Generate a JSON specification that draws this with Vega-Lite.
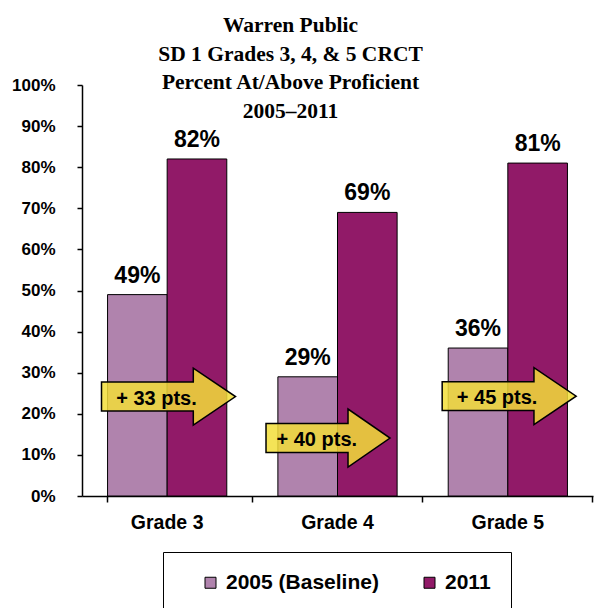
{
  "$schema": "https://vega.github.io/schema/vega-lite/v6.json",
  "autosize": {"type": "none"},
  "width": 511,
  "height": 411,
  "padding": {"left": 82, "top": 85, "right": 7, "bottom": 112},
  "background": "white",
  "title": {
    "text": ["Warren Public", "SD 1 Grades 3, 4, & 5 CRCT", "Percent At/Above Proficient", "2005–2011"],
    "font": "Liberation Serif",
    "fontSize": 21.5,
    "fontWeight": "bold",
    "color": "black",
    "lineHeight": 28.5,
    "anchor": "middle",
    "frame": "group",
    "orient": "top",
    "baseline": "bottom",
    "offset": 0,
    "dx": -47,
    "dy": 68
  },
  "datasets": {
    "bars": [
      {"grade": "Grade 3", "year": "2005 (Baseline)", "value": 0.49},
      {"grade": "Grade 3", "year": "2011", "value": 0.82},
      {"grade": "Grade 4", "year": "2005 (Baseline)", "value": 0.29},
      {"grade": "Grade 4", "year": "2011", "value": 0.69},
      {"grade": "Grade 5", "year": "2005 (Baseline)", "value": 0.36},
      {"grade": "Grade 5", "year": "2011", "value": 0.81}
    ],
    "arrows": [
      {"grade": "Grade 3", "label": "+ 33 pts.", "pos": 0.242},
      {"grade": "Grade 4", "label": "+ 40 pts.", "pos": 0.141},
      {"grade": "Grade 5", "label": "+ 45 pts.", "pos": 0.243}
    ]
  },
  "encoding": {
    "x": {
      "field": "grade",
      "type": "nominal",
      "scale": {"paddingInner": 0.3, "paddingOuter": 0.15},
      "axis": {
        "title": null,
        "labelAngle": 0,
        "labelFont": "Liberation Sans",
        "labelFontWeight": "bold",
        "labelFontSize": 19.5,
        "labelColor": "black",
        "labelPadding": 11,
        "tickSize": 6,
        "tickColor": "black",
        "tickWidth": 1.5,
        "domainColor": "black",
        "domainWidth": 1.5,
        "bandPosition": 1.214,
        "tickExtra": true
      }
    }
  },
  "layer": [
    {
      "data": {"name": "bars"},
      "mark": {"type": "bar", "stroke": "black", "strokeWidth": 1},
      "encoding": {
        "xOffset": {"field": "year", "type": "nominal", "sort": ["2005 (Baseline)", "2011"]},
        "y": {
          "field": "value",
          "type": "quantitative",
          "scale": {"domain": [0, 1]},
          "axis": {
            "title": null,
            "values": [0, 0.1, 0.2, 0.3, 0.4, 0.5, 0.6, 0.7, 0.8, 0.9, 1],
            "format": ".0%",
            "grid": false,
            "labelFont": "Liberation Sans",
            "labelFontWeight": "bold",
            "labelFontSize": 17,
            "labelColor": "black",
            "labelPadding": 22,
            "tickSize": 5,
            "tickColor": "black",
            "tickWidth": 1.5,
            "domainColor": "black",
            "domainWidth": 1.5
          }
        },
        "color": {
          "field": "year",
          "type": "nominal",
          "scale": {"domain": ["2005 (Baseline)", "2011"], "range": ["#B083AD", "#911A68"]},
          "legend": {
            "orient": "none",
            "legendX": 81,
            "legendY": 467,
            "direction": "horizontal",
            "title": "\u2003",
            "titleOrient": "left",
            "titleFontSize": 19,
            "titlePadding": 17,
            "symbolType": "square",
            "symbolSize": 121,
            "symbolStrokeColor": "black",
            "symbolStrokeWidth": 1,
            "symbolOpacity": 1,
            "labelFont": "Liberation Sans",
            "labelFontWeight": "bold",
            "labelFontSize": 21,
            "labelColor": "black",
            "labelOffset": 5,
            "columnPadding": 40,
            "padding": 20,
            "strokeColor": "black",
            "fillColor": "white",
            "labelLimit": 300
          }
        }
      }
    },
    {
      "data": {"name": "bars"},
      "mark": {"type": "text", "font": "Liberation Sans", "fontWeight": "bold", "fontSize": 23, "color": "black", "baseline": "alphabetic", "dy": -12},
      "encoding": {
        "xOffset": {"field": "year", "type": "nominal", "sort": ["2005 (Baseline)", "2011"]},
        "y": {"field": "value", "type": "quantitative"},
        "text": {"field": "value", "type": "quantitative", "format": ".0%"}
      }
    },
    {
      "data": {"name": "arrows"},
      "mark": {"type": "point", "filled": true, "fill": "#F2DE3A", "fillOpacity": 0.85, "opacity": 1, "stroke": "black", "strokeWidth": 1.5, "size": 17956},
      "encoding": {
        "y": {"field": "pos", "type": "quantitative"},
        "shape": {
          "condition": {"test": "datum.grade === 'Grade 4'", "value": "M-1.067,-0.216L0.157,-0.216L0.157,-0.433L0.784,0L0.157,0.433L0.157,0.216L-1.067,0.216Z"},
          "value": "M-0.98,-0.216L0.39,-0.216L0.39,-0.425L1.02,0L0.39,0.425L0.39,0.216L-0.98,0.216Z"
        }
      }
    },
    {
      "data": {"name": "arrows"},
      "transform": [{"filter": "datum.grade !== 'Grade 4'"}],
      "mark": {"type": "text", "font": "Liberation Sans", "fontWeight": "bold", "fontSize": 20, "color": "black", "align": "left", "baseline": "middle", "dx": -51, "dy": 2},
      "encoding": {
        "y": {"field": "pos", "type": "quantitative"},
        "text": {"field": "label"}
      }
    },
    {
      "data": {"name": "arrows"},
      "transform": [{"filter": "datum.grade === 'Grade 4'"}],
      "mark": {"type": "text", "font": "Liberation Sans", "fontWeight": "bold", "fontSize": 20, "color": "black", "align": "left", "baseline": "middle", "dx": -61, "dy": 2},
      "encoding": {
        "y": {"field": "pos", "type": "quantitative"},
        "text": {"field": "label"}
      }
    }
  ],
  "config": {
    "view": {"stroke": null}
  }
}
